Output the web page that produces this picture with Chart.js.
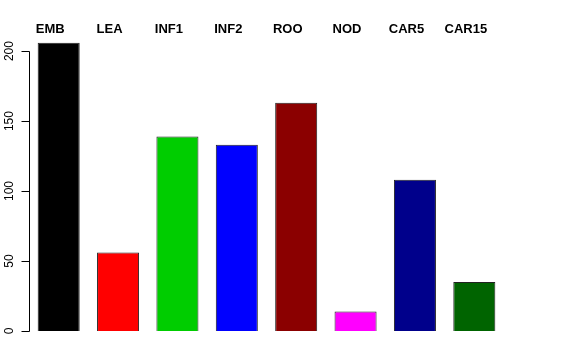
<!DOCTYPE html>
<html>
<head>
<meta charset="utf-8">
<script src="https://cdn.jsdelivr.net/npm/chart.js@4/dist/chart.umd.min.js"></script>
<style>
  body { margin: 0; background: #fff; }
  #wrap { width: 576px; height: 360px; }
</style>
</head>
<body>
<div id="wrap"><canvas id="barChart" width="576" height="360"></canvas></div>
<script>
// values
var categories = ['EMB', 'LEA', 'INF1', 'INF2', 'ROO', 'NOD', 'CAR5', 'CAR15'];
var counts = [206, 56, 139, 133, 163, 14, 108, 35];
var barColors = ['#000000', '#FF0000', '#00CD00', '#0000FF', '#8B0000', '#FF00FF', '#00008B', '#006400'];
var yTicks = [0, 50, 100, 150, 200];

// R style left axis: line from first to last tick, rotated labels
var rAxis = {
  id: 'rAxis',
  afterDraw: function(chart) {
    var ctx = chart.ctx;
    var y = chart.scales.y;
    var x0 = chart.chartArea.left;
    var top = y.getPixelForValue(yTicks[yTicks.length - 1]);
    var bottom = y.getPixelForValue(yTicks[0]);
    ctx.save();
    ctx.strokeStyle = '#000';
    ctx.lineWidth = 1;
    ctx.beginPath();
    ctx.moveTo(x0 + 0.5, Math.round(top) + 0.5);
    ctx.lineTo(x0 + 0.5, Math.round(bottom) + 0.5);
    yTicks.forEach(function(v) {
      var py = Math.round(y.getPixelForValue(v)) + 0.5;
      ctx.moveTo(x0 + 0.5, py);
      ctx.lineTo(x0 - 7.5, py);
    });
    ctx.stroke();
    ctx.fillStyle = '#000';
    ctx.font = '12px "Liberation Sans", Arial, sans-serif';
    ctx.textAlign = 'center';
    ctx.textBaseline = 'alphabetic';
    yTicks.forEach(function(v) {
      var py = y.getPixelForValue(v);
      ctx.save();
      ctx.translate(x0 - 16, py);
      ctx.rotate(-Math.PI / 2);
      ctx.fillText(String(v), 0, 0);
      ctx.restore();
    });
    ctx.restore();
  }
};

function drawChart() {
  var ctx = document.getElementById('barChart').getContext('2d');
  new Chart(ctx, {
    type: 'bar',
    data: {
      labels: categories,
      datasets: [{
        data: counts,
        backgroundColor: barColors,
        borderColor: '#222',
        borderWidth: 1,
        barPercentage: 0.708,
        categoryPercentage: 1
      }]
    },
    options: {
      responsive: false,
      animation: false,
      layout: { padding: { left: 0, right: 72, top: 0, bottom: 29 } },
      plugins: { legend: { display: false }, tooltip: { enabled: false } },
      scales: {
        x: {
          position: 'top',
          grid: { display: false, drawTicks: false },
          border: { display: false },
          ticks: {
            color: '#000',
            padding: 3,
            labelOffset: -8.5,
            maxRotation: 0,
            autoSkip: false,
            font: { family: '"Liberation Sans", Arial, sans-serif', size: 13, weight: 'bold' }
          },
          afterFit: function(scale) { scale.height = 40; }
        },
        y: {
          min: 0,
          max: 207.9,
          grid: { display: false, drawTicks: false },
          border: { display: false },
          ticks: { display: false },
          afterFit: function(scale) { scale.width = 29; }
        }
      }
    },
    plugins: [rAxis]
  });
}

document.addEventListener('DOMContentLoaded', drawChart);
</script>
</body>
</html>
